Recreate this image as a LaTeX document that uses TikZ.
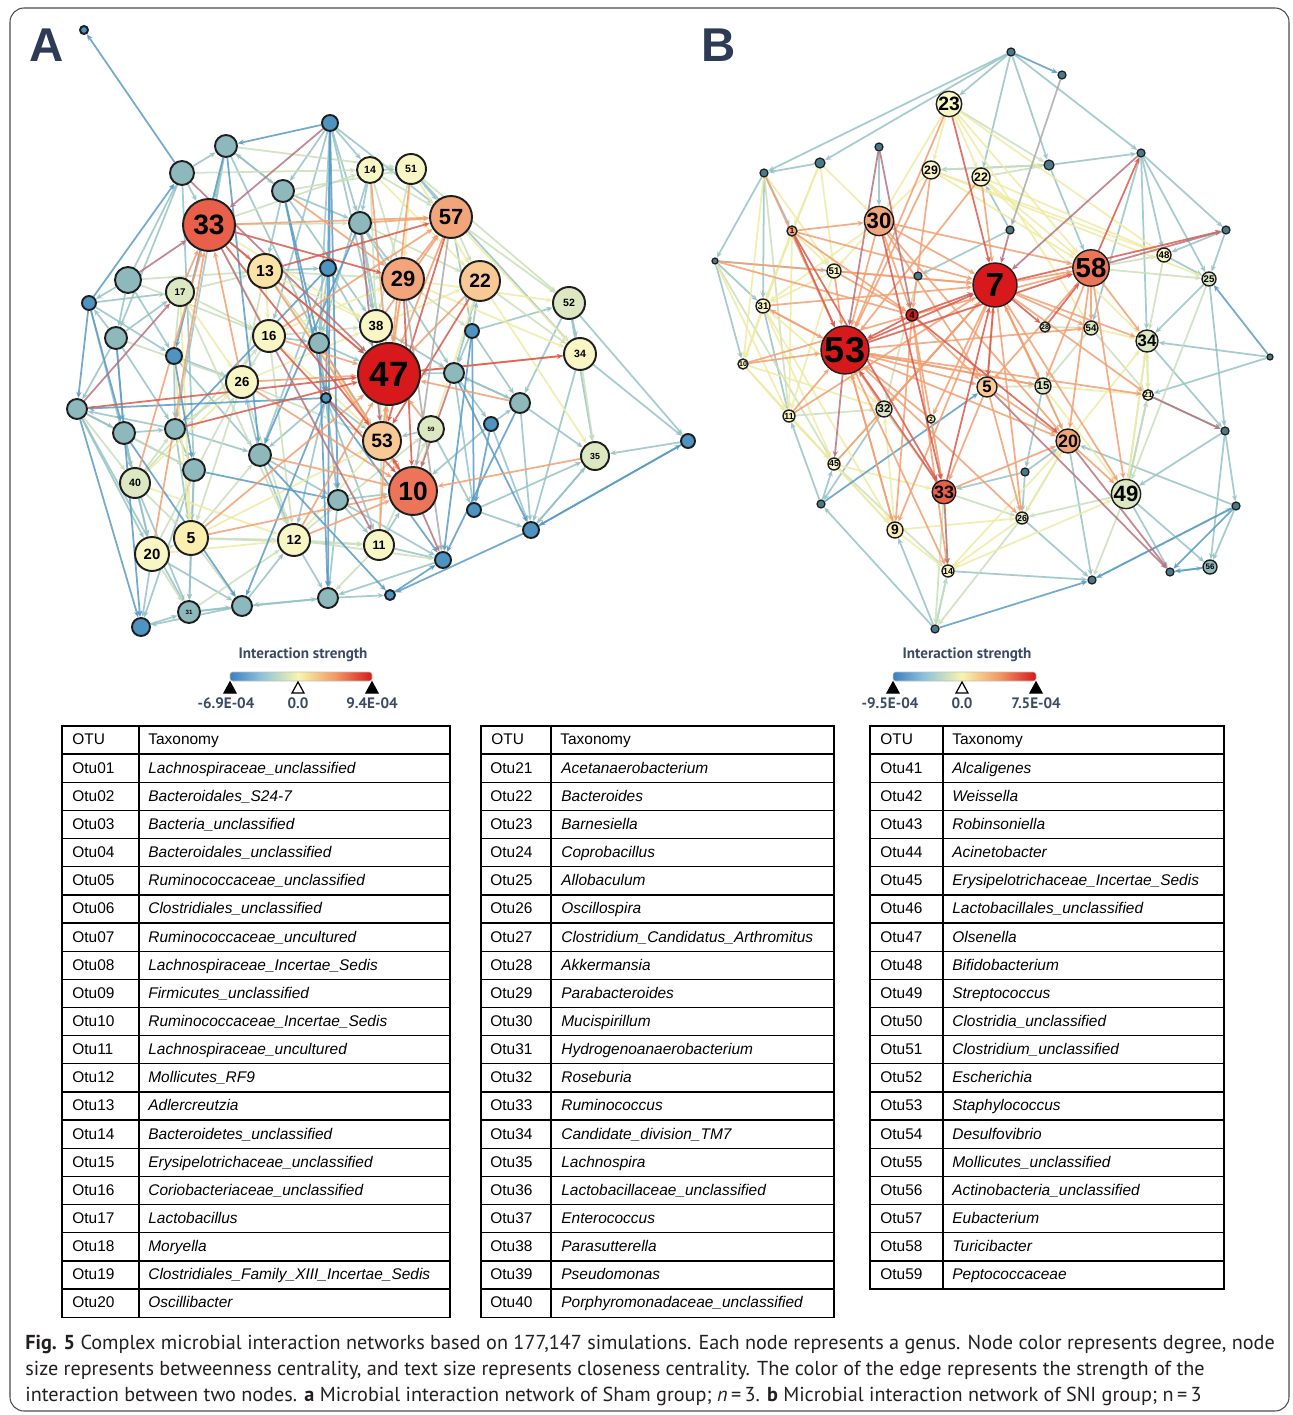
\documentclass[tikz,border=0pt]{standalone}
\usepackage{fontspec}
\setmainfont{Liberation Sans}
\newfontfamily\capfont{PT Sans}
\usetikzlibrary{arrows.meta,positioning}

\pgfdeclarelayer{edges}
\pgfsetlayers{edges,main}

% node fills
\definecolor{nRed}{HTML}{D7191C}
\definecolor{nOr1}{HTML}{E8604A}
\definecolor{nOr2}{HTML}{EC7559}
\definecolor{nOr3}{HTML}{F2A47B}
\definecolor{nOr4}{HTML}{F8C895}
\definecolor{nOr5}{HTML}{FCE3A5}
\definecolor{nYel}{HTML}{F8F6C4}
\definecolor{nYl2}{HTML}{FBEFB0}
\definecolor{nGrn}{HTML}{DCE8C2}
\definecolor{nTea}{HTML}{8DB9BC}
\definecolor{nBlu}{HTML}{4E93C2}
\definecolor{nDrk}{HTML}{4A7A8A}
\definecolor{ndLine}{HTML}{1E1E1E}
% edge colours
\definecolor{lnBlu}{HTML}{5A9BC6}
\definecolor{lnTea}{HTML}{96C3C6}
\definecolor{lnGrn}{HTML}{C9DFBA}
\definecolor{lnYel}{HTML}{EEEBA5}
\definecolor{lnOrg}{HTML}{F2A072}
\definecolor{lnRed}{HTML}{DA5A4C}
\definecolor{lnMau}{HTML}{B8737E}
\definecolor{lnGry}{HTML}{ABABAB}
% legend
\definecolor{sb1}{HTML}{3C7FC2}
\definecolor{sb2}{HTML}{8DC3DB}
\definecolor{sb3}{HTML}{F7F5AE}
\definecolor{sb4}{HTML}{F19A64}
\definecolor{sb5}{HTML}{D7191C}
\definecolor{legTxt}{HTML}{3B4A63}
\definecolor{panTxt}{HTML}{2E3B55}
\definecolor{capTxt}{HTML}{231F20}

\pgfdeclarehorizontalshading{strength}{100bp}{color(0bp)=(sb1); color(25bp)=(sb1);
  color(36bp)=(sb2); color(49bp)=(sb3); color(62bp)=(sb4); color(75bp)=(sb5); color(100bp)=(sb5)}

\tikzset{
  otu/.style={circle, draw=ndLine, line width=1.1pt, inner sep=0pt, text=black},
  ed/.style={-{Stealth[length=3.6pt,width=3pt]}, line width=1pt, opacity=.85},
  eBlu/.style={ed, draw=lnBlu},
  eTea/.style={ed, draw=lnTea},
  eGrn/.style={ed, draw=lnGrn},
  eYel/.style={ed, draw=lnYel},
  eOrg/.style={ed, draw=lnOrg},
  eRed/.style={ed, draw=lnRed},
  eMau/.style={ed, draw=lnMau},
  eGry/.style={ed, draw=lnGry},
  legtxt/.style={text=legTxt, font=\capfont\bfseries\fontsize{8.6}{10}\selectfont, inner sep=0pt},
  tabtxt/.style={anchor=west, inner sep=0pt, font=\fontsize{8.8}{10}\selectfont, text height=6.3pt, text depth=1.8pt},
  captxt/.style={anchor=base west, inner sep=0pt, text=capTxt, font=\capfont\fontsize{11.5}{13}\selectfont}
}

\begin{document}
\begin{tikzpicture}[x=0.02cm, y=-0.02cm]
\useasboundingbox (0,0) rectangle (1292,1415);
\draw[ndLine!80, line width=0.6pt, rounded corners=8] (10,8) rectangle (1289,1411);

% panel letters
\node[text=panTxt, font=\bfseries\fontsize{27}{30}\selectfont] (labA) at (47,45) {A};
\node[text=panTxt, font=\bfseries\fontsize{27}{30}\selectfont] (labB) at (719,45) {B};

%% ---------------- network A ----------------
\foreach \n/\x/\y/\r/\col/\fs/\t in {
  a47/389/374/31/nRed/20/47, a33/209/225/26/nOr1/16/33, a10/413/491/24/nOr2/15/10,
  a57/451/217/21/nOr3/12.5/57, a29/403/279/21/nOr3/12.5/29, a22/480/281/20/nOr4/11/22,
  a53/382/441/19/nOr4/11/53, a13/265/271/17/nOr5/9/13, a5/191/538/17/nYl2/9/5,
  a20/152/554/17/nYel/8.5/20, a16/269/336/16/nYel/7.5/16, a38/376/326/16/nYel/7.5/38,
  a26/242/382/16/nYel/7.5/26, a12/294/540/16/nYel/7.5/12, a34/580/354/16/nYel/6/34,
  a52/569/303/16/nGrn/6/52, a51/411/169/15/nYel/6/51, a11/379/545/15/nYel/7/11,
  a40/135/483/15/nGrn/6/40, a14/370/170/13/nYel/6/14, a17/180/292/14/nGrn/5.5/17,
  a35/595/456/14/nGrn/5/35, a59/431/429/13/nGrn/3.5/59, a31/189/612/11/nTea/3.5/31}
  \node[otu, fill=\col, minimum size=0.04cm*\r, font=\fontsize{\fs}{\fs}\selectfont\bfseries] (\n) at (\x,\y) {\t};

\foreach \n/\x/\y/\r/\col in {
  p1/84/30/4/nBlu, p2/182/173/12/nTea, p3/226/146/11/nTea, p4/330/123/8/nBlu,
  p5/283/191/11/nTea, p6/360/223/11/nTea, p7/128/280/13/nTea, p8/328/268/8/nBlu,
  p9/89/303/7/nBlu, p10/116/338/11/nTea, p11/174/356/8/nBlu, p12/319/343/10/nTea,
  p13/472/331/7/nBlu, p14/326/398/5/nBlu, p15/454/373/10/nTea, p16/77/409/10/nTea,
  p17/124/433/11/nTea, p18/175/429/10/nTea, p19/520/403/10/nTea, p20/491/424/7/nBlu,
  p21/260/455/11/nTea, p22/194/470/11/nTea, p23/338/500/10/nTea, p24/474/510/7/nBlu,
  p25/531/530/8/nBlu, p26/688/441/7/nBlu, p27/443/560/8/nBlu, p28/328/598/10/nTea,
  p29/242/606/10/nTea, p30/141/627/9/nBlu, p31/390/595/5/nBlu}
  \node[otu, fill=\col, minimum size=0.04cm*\r] (\n) at (\x,\y) {};

\begin{pgfonlayer}{edges}
\foreach \a/\b in {p2/p3, p2/a33, p3/a33, p5/p3, p4/a14, p4/p6, p4/p5, p4/a57, p5/a13, p6/a38,
  p7/p2, p7/p9, p10/p9, p10/p17, p11/a26, p12/a47, p15/a47, a59/a53, p19/a35, p19/p15,
  p20/p19, a34/p26, a52/p26, p26/a35, p24/a35, p25/a35, p16/p17, p17/a40, p18/p22, p16/a20,
  a40/a20, a20/p29, a20/p30, p29/p30, a31/p29, p28/p29, p23/p28, p23/a10, a11/p27, a12/p28,
  a5/a31, p21/a12, p21/a26, p22/a5, p18/p16, p13/a22, p13/a52, a52/a34, a13/p8, a16/p12,
  a51/a57, a14/a51, p24/p25, p27/p28, a11/a10, p20/a10, p13/p15, p5/p6, p14/a12, p14/a11,
  p14/p23, p14/p21, p14/a53, p2/p10, p3/p18, p8/p21, p6/p15, p12/p23, a59/p24, p15/p19,
  p18/a5, p10/p16, p9/a17, a14/p12, p19/p25, p22/p30, a38/p15, p15/p20, a52/a35,
  p3/p5, p4/a16, p4/a38, p4/p12, p5/a38, p6/a47, p6/a29, p8/a47, p8/p12, p10/a17,
  p10/p18, p11/p18, p11/p21, p12/a53, p12/p14, p16/p22, p17/a20, p17/p18, p18/p21,
  p21/p23, p22/a31, p23/a11, p23/p27, p28/p31, p29/a12, p30/a31, a31/p28, a40/a31,
  p16/a31, p20/p25, p15/p24, p13/p19, a52/p19, a34/p25, a35/p25, a22/p15, a57/p13,
  a51/a34, a14/p6, p3/p12, p2/p22, p7/p10, p7/p11, p9/p11, p9/a40}
  \draw[eTea] (\a) -- (\b);
\foreach \a/\b in {a33/a14, a33/p6, p2/a14, p3/a51, a17/a13, p7/a16, a40/a5, a5/a12, a12/a11,
  a20/a5, a26/a12, a16/a26, a13/a29, a14/a38, a51/a52, a57/a52, a22/a34, a34/a35, p16/a40,
  p18/a26, a5/p21, a11/p28, a31/a12, a26/a53, a53/a11, p10/a26, p17/p22, a20/a31, a5/p29,
  a17/p11, a13/p12, a16/a38, a29/p13, p6/a22, a40/p18, a12/p27, a11/a59, a14/a57, p5/a51,
  a17/a16, a13/a26, a16/a12, a26/a5, a5/a11, a12/a59, a38/a53, a57/a22, a14/a29,
  a51/a38, a40/a16, a20/a26, a17/a12, p7/a13}
  \draw[eGrn] (\a) -- (\b);
\foreach \a/\b in {a51/a22, a57/a34, a14/a22, a16/a29, a38/a22, a29/a52, a13/a16, a26/a38,
  a5/a53, a20/a12, a40/a26, a12/a53, a17/a26, p11/a5, a22/a35, a33/a16, a16/a53, a29/a34,
  a13/a38, a40/a12, a17/a5, a51/a29, a13/a53, a29/a53, a22/a10, a33/a38}
  \draw[eYel] (\a) -- (\b);
\foreach \a/\b in {p2/p1, p9/p2, p4/p3, p4/p8, p4/p23, p3/p21, p8/p14, p14/p16, p9/p17,
  p16/p30, p10/p30, p26/p25, p25/p26, p25/p31, p31/p27, p20/p24, p19/p27, p12/p28, p13/p27,
  p5/p12, p11/p22, p15/p25, p5/p14, p22/p23, p6/p21, p14/p27, p8/p18, p13/p24, p21/p31,
  p17/p29, p3/p11, p14/p29, p4/p28, p9/p16}
  \draw[eBlu] (\a) -- (\b);
\foreach \a/\b in {a33/a57, a26/a47, a13/a47, a16/a47, a29/a47, a57/a47, a22/a47, a38/a47,
  a53/a47, a5/a10, a12/a10, p6/a57, a29/a57, a34/a47, a35/a10, a33/a13, a17/a33, a40/a33,
  a26/a33, a11/a47, p21/a10, a20/a33, p19/a47, a59/a47, a5/a47, a53/a10, p5/a29,
  a13/a10, a26/a10, a16/a57, a38/a57, a12/a47, p12/a10, a14/a47, a51/a47}
  \draw[eOrg] (\a) -- (\b);
\foreach \a/\b in {a33/a47, p16/a47, a57/a53, a16/a10, p18/a47, a47/a34, a10/a53, a29/a10,
  a33/a29, a13/a57, a22/a53, a33/a53}
  \draw[eRed] (\a) -- (\b);
\foreach \a/\b in {p4/a33, p7/a33, a33/a11, p15/a10, p6/a53, p2/a47, a10/p27, p16/a17}
  \draw[eMau] (\a) -- (\b);
\foreach \a/\b in {a57/a10, a29/p27}
  \draw[eGry] (\a) -- (\b);
\end{pgfonlayer}

%% ---------------- network B ----------------
\foreach \n/\x/\y/\r/\col/\fs/\t in {
  b53/845/350/24/nRed/20.5/53, b7/995/285/22/nRed/19/7, b58/1091/268/16/nOr2/15.7/58,
  b30/879/221/14/nOr3/12.6/30, b49/1126/494/14/nGrn/12.6/49, b23/949/104/12/nYel/11/23,
  b20/1068/441/12/nOr3/10.2/20, b33/944/492/11/nOr1/10.2/33, b34/1147/341/11/nGrn/9.5/34,
  b5/987/387/10/nOr4/9.5/5, b29/931/170/9/nYel/7/29, b22/981/177/9/nYel/7/22,
  b9/895/530/8/nYl2/7.9/9, b15/1043/386/8/nGrn/6.5/15, b32/884/409/8/nGrn/6.5/32,
  b48/1164/255/7/nYel/5.5/48, b25/1209/279/7/nGrn/5.5/25, b54/1091/328/7/nGrn/5.5/54,
  b51/834/271/7/nYel/5.5/51, b31/763/306/7/nYel/5.5/31, b56/1210/567/7/nTea/4.5/56,
  b4/912/315/6/nRed/5.5/4, b11/789/416/6/nYel/5/11, b45/834/464/6/nYel/5/45,
  b26/1022/518/6/nGrn/5/26, b14/948/571/6/nYel/5/14, b1/792/231/5/nOr3/4.5/1,
  b10/743/364/5/nYel/4/10, b21/1148/395/5/nYel/4.5/21, b28/1045/327/5/nGrn/4/28,
  b2/931/419/4/nYel/3.5/2}
  \node[otu, fill=\col, line width=.8pt, minimum size=0.04cm*\r, font=\fontsize{\fs}{\fs}\selectfont\bfseries] (\n) at (\x,\y) {\t};

\foreach \n/\x/\y/\r in {
  q1/1011/52/4, q2/1062/75/4, q3/879/147/4, q4/820/163/5, q5/764/173/4, q6/1049/165/5,
  q7/1141/153/4, q8/1010/230/4, q9/1226/230/4, q10/715/261/3, q11/918/276/4, q12/1270/357/3,
  q13/1225/431/4, q14/1025/472/4, q15/1236/506/4, q16/821/504/4, q17/1170/572/4,
  q18/1092/580/4, q19/935/629/4}
  \node[otu, fill=nDrk, line width=.7pt, minimum size=0.04cm*\r] (\n) at (\x,\y) {};

\begin{pgfonlayer}{edges}
\foreach \a/\b in {q1/b23, q1/q7, q1/q4, q1/b22, q1/q5, q5/q10, q5/b31, q10/b10, q4/q5,
  q7/q9, q7/b25, q7/b48, q9/b25, q9/b48, q12/b34, q12/b21, b34/q13, q13/q15, q15/b56,
  q13/b56, q17/b56, q18/q15, q19/b14, q19/q16, b49/b56, b20/q18, b21/q13, b25/q13,
  b48/b25, q6/q7, q6/b58, q16/b45, q16/b11, b26/q18, b49/q17, b25/b34, q7/b54, q7/b34,
  q8/b22, q8/q11, q3/b30, q5/b1, q10/b51, q10/b31, b31/b11, q6/b29, q1/q6, b49/b21,
  q15/b20, q13/b49, q19/b9, b14/q18, b32/q16, q14/b20, q14/b33, q14/b26, b15/q14}
  \draw[eTea] (\a) -- (\b);
\foreach \a/\b in {b23/q6, b29/q6, b22/q6, b58/b48, b58/b25, b54/b21, b34/b21, b49/b26,
  b20/b26, b15/b20, b33/b26, b5/b15, b28/b54, b32/b33, b2/b33, q11/b32, b11/b32, b45/b14,
  b33/q19, b26/q19, b14/q19, q10/b45, q5/b11, b34/b49, b48/b34, b25/b49, b54/b15,
  b21/b49, b49/q18}
  \draw[eGrn] (\a) -- (\b);
\foreach \a/\b in {b23/b30, b23/b29, b23/b22, b29/b30, b22/b58, b29/b58, b31/b10, b10/b11,
  b11/b45, b45/b32, b1/b51, b51/b31, q4/b30, q4/b51, b14/b33, b9/b32, b20/b34, b21/b34,
  b49/b34, b15/b49, b26/b20, q10/b11, q5/b10, b9/b14, b45/b9, b23/b48, b22/b48, b29/b25,
  q5/b51, b10/b32, b14/b49, b54/b34, b15/b21, b26/b14, b31/b45, b1/b31,
  b10/b45, b1/b11, b31/b9, b51/b11, b11/b9, b45/b33, b9/b26, b14/b20, b23/b58,
  b23/b54, b22/b34, b29/b48, b30/b51, b30/b31, b1/b10, q4/b1, q4/b31, b31/b32}
  \draw[eYel] (\a) -- (\b);
\foreach \a/\b in {q1/q2, q12/b25, q15/q18, b56/q17, q15/q17, q19/q18, q16/b5}
  \draw[eBlu] (\a) -- (\b);
\foreach \a/\b in {q2/q8}
  \draw[eGry] (\a) -- (\b);
\foreach \a/\b in {b30/b53, b30/b7, b7/b58, b51/b7, b51/b53, b1/b7, b31/b53, b10/b53,
  b11/b53, b32/b53, b5/b7, b2/b53, b9/b53, b53/b20, b7/b20, b58/b20, b4/b33, b20/b49,
  b7/b54, b58/b54, b29/b4, b22/b7, b30/b4, b4/b5, b5/b20, b53/b26, b15/b53, b15/b7,
  b53/b5, b53/b15, b1/b4, b10/b4, b31/b7, b7/b15, b33/b20, b4/b58, b58/b15, b53/b21,
  b7/b21, b7/b34, b58/b34, b53/b54, b5/b33, b32/b7, b45/b7, b53/b9, b53/b14, b7/b26,
  b30/b58, q5/b53, q10/b4, q10/b7, b11/b7, b53/b31, b4/b9, b4/b14, b7/b49, b7/b9,
  b58/b49, b58/b5, b5/b26, b30/b5, b30/b20, b1/b30, b51/b4, b7/b32, b7/b2, b22/b53,
  b29/b53, b23/b53}
  \draw[eOrg] (\a) -- (\b);
\foreach \a/\b in {b53/b7, b4/b7, b4/b53, b1/b53, b33/b53, b33/b7, b23/b7, b53/b58, b7/b28,
  b28/b58, b4/b20, b58/q7, b7/q9, b30/b33, b1/b33, b7/b5}
  \draw[eRed] (\a) -- (\b);
\foreach \a/\b in {q7/b7, q3/b53, q3/b4, b33/b14, b53/b45, q8/b7, b58/q9, b20/q17, b5/q17,
  b21/q13}
  \draw[eMau] (\a) -- (\b);
\end{pgfonlayer}

%% ---------------- legends ----------------
\node[legtxt] (legA) at (303,655) {Interaction strength};
\shade[shading=strength, draw=black!25, line width=.3pt, rounded corners=1.5] (230,672) rectangle (372,681);
\foreach \p/\f in {230/black, 298/white, 372/black}
  \filldraw[fill=\f, draw=black, line width=.7pt] (\p-6,693) -- (\p,682) -- (\p+6,693) -- cycle;
\node[legtxt] (loA) at (226,703) {-6.9E-04};
\node[legtxt] (zeA) at (298,703) {0.0};
\node[legtxt] (hiA) at (372,703) {9.4E-04};

\node[legtxt] (legB) at (967,655) {Interaction strength};
\shade[shading=strength, draw=black!25, line width=.3pt, rounded corners=1.5] (893,672) rectangle (1036,681);
\foreach \p/\f in {893/black, 962/white, 1036/black}
  \filldraw[fill=\f, draw=black, line width=.7pt] (\p-6,693) -- (\p,682) -- (\p+6,693) -- cycle;
\node[legtxt] (loB) at (890,703) {-9.5E-04};
\node[legtxt] (zeB) at (962,703) {0.0};
\node[legtxt] (hiB) at (1036,703) {7.5E-04};

%% ---------------- tables ----------------
\foreach \xl/\xm/\xr/\nr in {62/139/450/20, 481/551/834/20, 870/943/1224/19} {
  \draw[line width=.75pt] (\xl,726) rectangle (\xr,726+28.15*\nr+28.15);
  \draw[line width=.75pt] (\xm,726) -- (\xm,726+28.15*\nr+28.15);
  \foreach \k in {1,...,\nr}
    \draw[line width=.75pt] (\xl,726+28.15*\k) -- (\xr,726+28.15*\k);
  \node[tabtxt] at (\xl+10,741) {OTU};
  \node[tabtxt] at (\xm+9,741) {Taxonomy};
}
\foreach \o/\t [count=\i] in {Otu01/Lachnospiraceae\_unclassified, Otu02/Bacteroidales\_S24-7,
  Otu03/Bacteria\_unclassified, Otu04/Bacteroidales\_unclassified,
  Otu05/Ruminococcaceae\_unclassified, Otu06/Clostridiales\_unclassified,
  Otu07/Ruminococcaceae\_uncultured, Otu08/Lachnospiraceae\_Incertae\_Sedis,
  Otu09/Firmicutes\_unclassified, Otu10/Ruminococcaceae\_Incertae\_Sedis,
  Otu11/Lachnospiraceae\_uncultured, Otu12/Mollicutes\_RF9, Otu13/Adlercreutzia,
  Otu14/Bacteroidetes\_unclassified, Otu15/Erysipelotrichaceae\_unclassified,
  Otu16/Coriobacteriaceae\_unclassified, Otu17/Lactobacillus, Otu18/Moryella,
  Otu19/Clostridiales\_Family\_XIII\_Incertae\_Sedis, Otu20/Oscillibacter} {
  \node[tabtxt] at (72,741+28.15*\i) {\o};
  \node[tabtxt] at (148,741+28.15*\i) {\itshape\t};
}
\foreach \o/\t [count=\i] in {Otu21/Acetanaerobacterium, Otu22/Bacteroides, Otu23/Barnesiella,
  Otu24/Coprobacillus, Otu25/Allobaculum, Otu26/Oscillospira,
  Otu27/Clostridium\_Candidatus\_Arthromitus, Otu28/Akkermansia, Otu29/Parabacteroides,
  Otu30/Mucispirillum, Otu31/Hydrogenoanaerobacterium, Otu32/Roseburia, Otu33/Ruminococcus,
  Otu34/Candidate\_division\_TM7, Otu35/Lachnospira, Otu36/Lactobacillaceae\_unclassified,
  Otu37/Enterococcus, Otu38/Parasutterella, Otu39/Pseudomonas,
  Otu40/Porphyromonadaceae\_unclassified} {
  \node[tabtxt] at (490,741+28.15*\i) {\o};
  \node[tabtxt] at (561,741+28.15*\i) {\itshape\t};
}
\foreach \o/\t [count=\i] in {Otu41/Alcaligenes, Otu42/Weissella, Otu43/Robinsoniella,
  Otu44/Acinetobacter, Otu45/Erysipelotrichaceae\_Incertae\_Sedis,
  Otu46/Lactobacillales\_unclassified, Otu47/Olsenella, Otu48/Bifidobacterium,
  Otu49/Streptococcus, Otu50/Clostridia\_unclassified, Otu51/Clostridium\_unclassified,
  Otu52/Escherichia, Otu53/Staphylococcus, Otu54/Desulfovibrio,
  Otu55/Mollicutes\_unclassified, Otu56/Actinobacteria\_unclassified, Otu57/Eubacterium,
  Otu58/Turicibacter, Otu59/Peptococcaceae} {
  \node[tabtxt] at (880,741+28.15*\i) {\o};
  \node[tabtxt] at (952,741+28.15*\i) {\itshape\t};
}

%% ---------------- caption ----------------
\node[captxt] (cap1) at (25,1349) {\textbf{Fig. 5} Complex microbial interaction networks based on 177,147 simulations. Each node represents a genus. Node color represents degree, node};
\node[captxt] (cap2) at (25,1375) {size represents betweenness centrality, and text size represents closeness centrality. The color of the edge represents the strength of the};
\node[captxt] (cap3) at (25,1401) {interaction between two nodes. \textbf{a} Microbial interaction network of Sham group; \textit{n}\,=\,3. \textbf{b} Microbial interaction network of SNI group; n\,=\,3};
\end{tikzpicture}
\end{document}
